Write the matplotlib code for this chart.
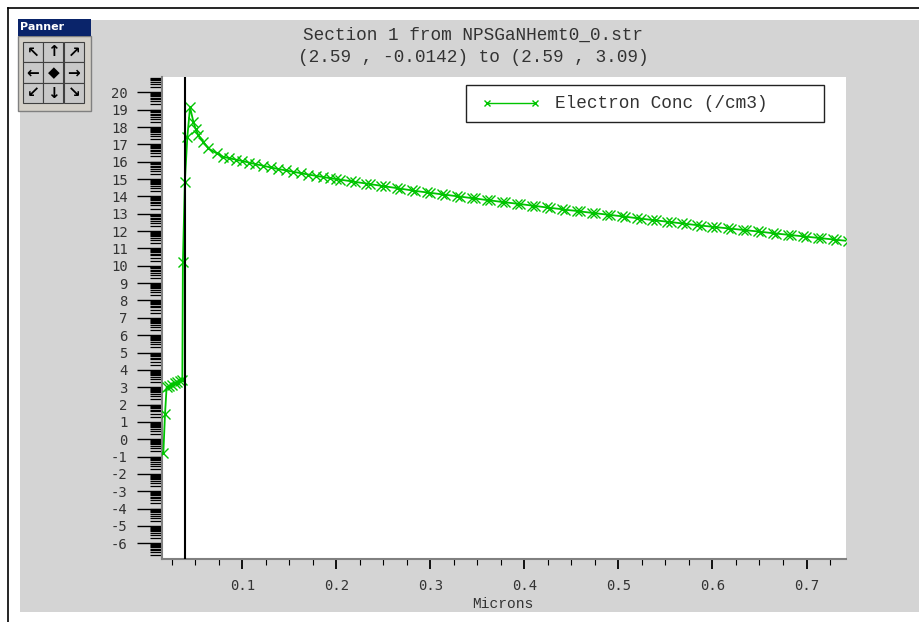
import numpy as np
import matplotlib
matplotlib.use("Agg")
import matplotlib.pyplot as plt
from matplotlib.patches import Rectangle
from matplotlib.lines import Line2D
from matplotlib.ticker import FixedLocator, MultipleLocator

plt.rcParams['axes.unicode_minus'] = False

# %% DATA
title_line1 = "Section 1 from NPSGaNHemt0_0.str"
title_line2 = "(2.59 , -0.0142) to (2.59 , 3.09)"
x_label = "Microns"
series_label = "Electron Conc (/cm3)"

# depth along the cutline (um) and log10 electron concentration
x_um = [0.0160, 0.0178, 0.0195, 0.0220, 0.0250, 0.0280, 0.0310, 0.0340, 0.0362, 0.0368,
        0.0389, 0.0415, 0.0444, 0.0479, 0.0504, 0.0532, 0.0585, 0.0638, 0.0728, 0.0798,
        0.0860, 0.0930, 0.1000, 0.1070, 0.1140, 0.1220, 0.1300, 0.1380, 0.1460, 0.1540,
        0.1620, 0.1700, 0.1780, 0.1860, 0.1930,
        0.2000, 0.2035, 0.2160, 0.2195, 0.2320, 0.2355, 0.2480, 0.2515, 0.2640, 0.2675,
        0.2800, 0.2835, 0.2960, 0.2995, 0.3120, 0.3155, 0.3280, 0.3315, 0.3440, 0.3475,
        0.3600, 0.3635, 0.3760, 0.3795, 0.3920, 0.3955, 0.4080, 0.4115, 0.4240, 0.4275,
        0.4400, 0.4435, 0.4560, 0.4595, 0.4720, 0.4755, 0.4880, 0.4915, 0.5040, 0.5075,
        0.5200, 0.5235, 0.5360, 0.5395, 0.5520, 0.5555, 0.5680, 0.5715, 0.5840, 0.5875,
        0.6000, 0.6035, 0.6160, 0.6195, 0.6320, 0.6355, 0.6480, 0.6515, 0.6640, 0.6675,
        0.6800, 0.6835, 0.6960, 0.6995, 0.7120, 0.7155, 0.7280, 0.7315, 0.7440]
conc_log = [-0.81, 1.47, 3.00, 3.08, 3.15, 3.22, 3.28, 3.35, 3.40, 10.20,
            14.85, 17.41, 19.14, 18.31, 17.87, 17.54, 17.15, 16.77, 16.48, 16.28,
            16.20, 16.12, 16.04, 15.95, 15.86, 15.77, 15.67, 15.58, 15.50, 15.42,
            15.34, 15.26, 15.19, 15.12, 15.05,
            15.00, 14.97, 14.87, 14.84, 14.74, 14.71, 14.61, 14.58, 14.48, 14.45,
            14.35, 14.32, 14.23, 14.21, 14.12, 14.10, 14.01, 13.99, 13.90, 13.88,
            13.79, 13.77, 13.68, 13.66, 13.58, 13.56, 13.47, 13.45, 13.36, 13.34,
            13.26, 13.23, 13.16, 13.13, 13.05, 13.03, 12.95, 12.93, 12.85, 12.83,
            12.74, 12.72, 12.64, 12.62, 12.54, 12.52, 12.44, 12.42, 12.34, 12.32,
            12.25, 12.23, 12.16, 12.14, 12.07, 12.05, 11.98, 11.96, 11.88, 11.86,
            11.79, 11.77, 11.70, 11.68, 11.61, 11.59, 11.52, 11.50, 11.43]

interface_x = 0.0387          # black vertical marker line
x_ticks = [0.1, 0.2, 0.3, 0.4, 0.5, 0.6, 0.7]
x_tick_labels = ["0.1", "0.2", "0.3", "0.4", "0.5", "0.6", "0.7"]
y_ticks = list(range(-6, 21))
x_limits = (0.0149, 0.742)
y_limits = (-6.92, 20.9)
panner_arrows = ["\u2196", "\u2191", "\u2197",
                 "\u2190", "\u25c6", "\u2192",
                 "\u2199", "\u2193", "\u2198"]

# %% FIGURE SETUP (pixel helpers, image is 920x622)
W, H = 920, 622
def fx(px):
    return px / W
def fy(py):
    return 1 - py / H

fig = plt.figure(figsize=(W / 100, H / 100), dpi=100)
fig.patch.set_facecolor('white')

# window frame and grey client area
fig.add_artist(Rectangle((fx(20), fy(612)), fx(920) - fx(20), fy(20) - fy(612),
                         transform=fig.transFigure, facecolor='#d4d4d4', edgecolor='none', zorder=0))
fig.add_artist(Line2D([fx(8), fx(8)], [fy(7.5), 0], transform=fig.transFigure, color='black', lw=1.2))
fig.add_artist(Line2D([fx(8), 1], [fy(7.5), fy(7.5)], transform=fig.transFigure, color='black', lw=1.2))

# %% MAIN AXES
ax = fig.add_axes([fx(162.3), fy(559.3), (846 - 162.3) / W, (559.3 - 76.7) / H])
ax.set_facecolor('white')

ax.plot(x_um, conc_log, color='#00c400', lw=1.3, marker='x', ms=6.5, mew=1.0, zorder=3)
ax.axvline(interface_x, color='black', lw=1.5, zorder=4)

ax.set_xlim(*x_limits)
ax.set_ylim(*y_limits)

for side in ['top', 'right']:
    ax.spines[side].set_visible(False)
for side in ['left', 'bottom']:
    ax.spines[side].set_color('#808080')
    ax.spines[side].set_linewidth(1.5)

ax.set_xticks(x_ticks)
ax.set_xticklabels(x_tick_labels)
ax.xaxis.set_minor_locator(MultipleLocator(0.025))
ax.set_yticks(y_ticks)
ax.set_yticklabels([str(v) for v in y_ticks])
# log-decade style minor ticks give the dense "barcode" look on the left axis
minor_y = [k + np.log10(m) for k in range(-7, 21) for m in range(2, 10)]
ax.yaxis.set_minor_locator(FixedLocator(minor_y))

ax.tick_params(axis='x', which='major', direction='out', length=7.5, width=1.3, pad=7,
               colors='black', labelcolor='#333333')
ax.tick_params(axis='x', which='minor', direction='out', length=4.5, width=0.8, colors='black')
ax.tick_params(axis='y', which='major', direction='out', length=18, width=1.0, pad=7,
               colors='black', labelcolor='#333333')
ax.tick_params(axis='y', which='minor', direction='out', length=8.6, width=0.9, colors='black')
for lab in ax.get_xticklabels() + ax.get_yticklabels():
    lab.set_fontfamily('DejaVu Sans Mono')
    lab.set_fontsize(10)

# %% TEXTS
mono = 'Liberation Mono'
fig.text(fx(473), fy(35), title_line1, family=mono, fontsize=12.8, ha='center', va='center', color='#333333')
fig.text(fx(473), fy(58), title_line2, family=mono, fontsize=12.8, ha='center', va='center', color='#333333')
fig.text(fx(503), fy(604), x_label, family=mono, fontsize=10.5, ha='center', va='center', color='#333333')

# legend box
fig.add_artist(Rectangle((fx(465.7), fy(122.3)), fx(824) - fx(465.7), fy(85) - fy(122.3),
                         transform=fig.transFigure, facecolor='white', edgecolor='#222222', lw=1.0, zorder=5))
fig.add_artist(Line2D([fx(487), fx(535)], [fy(103.3), fy(103.3)], transform=fig.transFigure,
                      color='#00c400', lw=1.0, marker='x', ms=5, mew=1.0, zorder=6))
fig.text(fx(555), fy(103.3), series_label, family=mono, fontsize=12.8, ha='left', va='center',
         color='#333333', zorder=6)

# %% PANNER WIDGET
fig.add_artist(Rectangle((fx(18), fy(111)), fx(91) - fx(18), fy(36) - fy(111),
                         transform=fig.transFigure, facecolor='#d4d0c8', edgecolor='#808080', lw=1.0, zorder=6))
fig.add_artist(Rectangle((fx(18), fy(36)), fx(91) - fx(18), fy(19) - fy(36),
                         transform=fig.transFigure, facecolor='#0a246a', edgecolor='none', zorder=7))
fig.text(fx(20), fy(27.5), "Panner", color='white', fontsize=8, fontweight='bold',
         family='DejaVu Sans', ha='left', va='center', zorder=8)
for i, arrow in enumerate(panner_arrows):
    r, c = divmod(i, 3)
    bx, by = 23 + c * 20.5, 42 + r * 20.5
    fig.add_artist(Rectangle((fx(bx), fy(by + 20)), fx(20) - fx(0), fy(0) - fy(20),
                             transform=fig.transFigure, facecolor='#c8c8c8', edgecolor='#404040',
                             lw=0.8, zorder=8))
    fig.text(fx(bx + 10), fy(by + 10), arrow, family='DejaVu Sans', fontsize=11, fontweight='bold',
             ha='center', va='center', color='black', zorder=9)

fig.savefig('out.png', dpi=100)
